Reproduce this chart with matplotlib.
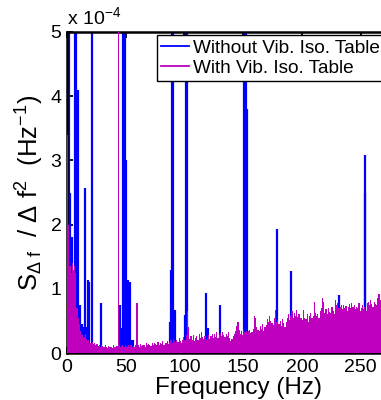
import matplotlib
matplotlib.use("Agg")
import matplotlib.pyplot as plt
import numpy as np

# ---- data (PSD values in units of 1e-6 Hz^-1) ----
freq_with = list(range(268))  # Hz, 1 Hz bins
psd_with = [
    340, 200, 135, 125, 140, 130, 135, 125, 70, 55,
    45, 35, 30, 28, 25, 30, 22, 18, 20, 16,
    15, 17, 14, 16, 12, 14, 11, 13, 10, 12,
    11, 9, 12, 10, 8, 11, 9, 10, 8, 12,
    9, 10, 11, 600, 12, 10, 11, 13, 10, 12,
    9, 11, 13, 10, 12, 9, 11, 10, 12, 78,
    12, 10, 14, 11, 13, 12, 10, 15, 12, 14,
    13, 11, 16, 12, 15, 14, 12, 17, 13, 16,
    14, 18, 13, 16, 15, 19, 14, 17, 20, 16,
    22, 18, 15, 20, 17, 23, 19, 16, 21, 25,
    20, 28, 66, 40, 22, 26, 20, 28, 18, 24,
    26, 21, 29, 23, 33, 25, 22, 27, 20, 24,
    28, 22, 26, 30, 24, 29, 25, 32, 23, 28,
    31, 26, 33, 28, 25, 30, 27, 32, 24, 19,
    22, 26, 30, 35, 42, 48, 36, 30, 34, 28,
    36, 33, 35, 30, 34, 36, 31, 33, 38, 57,
    55, 40, 36, 34, 42, 38, 45, 35, 40, 44,
    53, 48, 57, 50, 46, 44, 55, 67, 48, 52,
    45, 50, 42, 53, 47, 40, 49, 55, 60, 52,
    57, 65, 55, 62, 58, 67, 56, 60, 54, 55,
    52, 67, 55, 53, 60, 48, 57, 62, 55, 58,
    80, 62, 58, 60, 55, 65, 70, 85, 80, 62,
    68, 60, 70, 64, 62, 72, 66, 60, 82, 75,
    78, 70, 72, 74, 68, 75, 70, 73, 65, 72,
    76, 70, 78, 72, 75, 68, 72, 70, 78, 66,
    70, 74, 68, 72, 65, 78, 80, 74, 82, 76,
    72, 80, 76, 74, 85, 92, 82, 95,
]

freq_without = [
    0.8, 1.5, 2.3, 4.0, 6.8, 7.4, 8.2, 9.6, 10.5, 11.2, 12.5, 13.5, 14.5,
    15.3, 16.5, 18.0, 18.7, 21.0, 28.9, 45.0, 46.2, 48.0, 48.8, 49.6,
    50.3, 52.2, 53.7, 55.0, 56.0, 87.7, 88.6, 89.2, 90.0, 92.0, 100.5,
    101.5, 102.2, 118.4, 120.4, 130.3, 150.8, 151.6, 152.4, 153.2,
    178.6, 190.5, 231.7, 253.6, 254.0,
]
psd_without = [
    800, 800, 250, 180, 800, 800, 300, 410, 60, 75, 45, 40, 35,
    257, 40, 114, 111, 800, 78, 74, 39, 800, 800, 800,
    300, 114, 111, 20, 20, 49, 130, 800, 800, 67, 59,
    800, 800, 93, 39, 75, 800, 800, 800, 380,
    193, 127, 90, 250, 308,
]

xticks = [0, 50, 100, 150, 200, 250]
yticks = [0, 1, 2, 3, 4, 5]

BLUE = "#0000ff"
MAGENTA = "#bf00bf"

plt.rcParams["font.family"] = ["Liberation Sans", "DejaVu Sans"]
plt.rcParams["mathtext.fontset"] = "custom"
plt.rcParams["mathtext.rm"] = "Liberation Sans"
plt.rcParams["mathtext.it"] = "Liberation Sans"

fig = plt.figure(figsize=(3.81, 4.0), dpi=100)
ax = fig.add_axes([0.1759, 0.1175, 0.8325, 0.8025])

scale = 1e-6 / 1e-4
ax.vlines(freq_without, 0, [v * scale for v in psd_without], color=BLUE,
          linewidth=1.6, zorder=2)
ax.bar(freq_with, [v * scale for v in psd_with], width=1.0, color=MAGENTA,
       linewidth=0, align="edge", zorder=3)

# legend proxies
ax.plot([], [], color=BLUE, linewidth=1.3, label="Without Vib. Iso. Table")
ax.plot([], [], color=MAGENTA, linewidth=1.3, label="With Vib. Iso. Table")

ax.set_xlim(0, 270)
ax.set_ylim(0, 5)
ax.set_xticks(xticks)
ax.set_yticks(yticks)
ax.tick_params(direction="in", top=True, right=False, length=4, width=1.3,
               labelsize=14, pad=4)
for s in ax.spines.values():
    s.set_linewidth(1.8)

ax.set_xlabel("Frequency (Hz)", fontsize=17.5)
ax.xaxis.set_label_coords(0.54, -0.127)
ax.xaxis.label.set_va("baseline")
ax.set_ylabel(r"$\mathregular{S_{\Delta\ f}\ \ /\ \Delta\ f^2\ \ (Hz^{-1})}$",
              fontsize=18.5, labelpad=3)
ax.text(0.0, 1.012, r"$\mathregular{x\ 10^{-4}}$", transform=ax.transAxes,
        fontsize=14, ha="left", va="bottom")

leg = ax.legend(loc="upper left", bbox_to_anchor=(0.283, 0.99),
                borderaxespad=0, fontsize=13.7, frameon=True, fancybox=False,
                edgecolor="black", framealpha=1, handlelength=1.45,
                handletextpad=0.25, labelspacing=0.15, borderpad=0.22)
leg.get_frame().set_linewidth(1.0)
leg.set_zorder(5)

fig.savefig("out.png", dpi=100)
